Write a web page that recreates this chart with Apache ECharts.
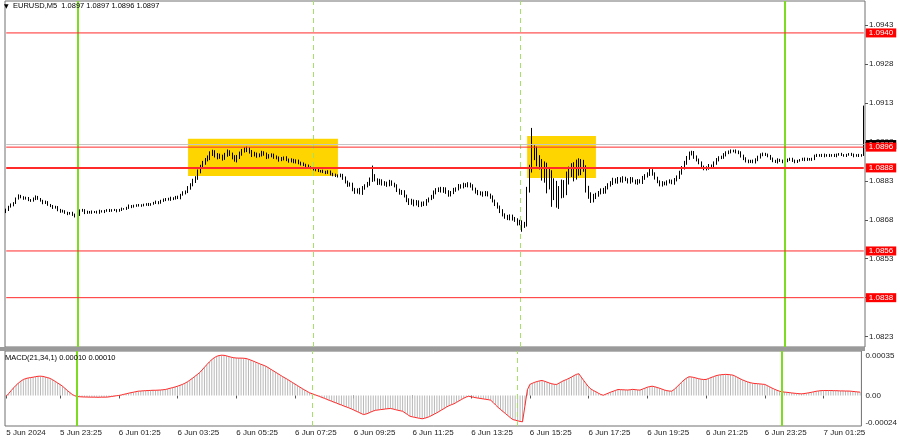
<!DOCTYPE html>
<html><head><meta charset="utf-8">
<script src="https://cdn.jsdelivr.net/npm/echarts/dist/echarts.min.js"></script>
<style>html,body{margin:0;padding:0;background:#fff}#c{width:900px;height:441px}</style>
</head><body><div id="c"></div>
<script>
// ---- data (EURUSD M5, first bar 5 Jun 2024 21:35) ----
const firstOpen = 1.08712;
const closes = [
1.08718,1.08730,1.08737,1.08745,1.08761,1.08772,1.08768,1.08761,1.08764,1.08757,
1.08753,1.08761,1.08768,1.08761,1.08753,1.08745,1.08749,1.08737,1.08734,1.08726,
1.08730,1.08718,1.08711,1.08714,1.08707,1.08703,1.08707,1.08699,1.08695,1.08699,
1.08714,1.08718,1.08707,1.08711,1.08707,1.08711,1.08711,1.08707,1.08714,1.08711,
1.08714,1.08718,1.08714,1.08718,1.08718,1.08714,1.08718,1.08722,1.08722,1.08726,
1.08734,1.08730,1.08734,1.08737,1.08734,1.08737,1.08737,1.08741,1.08737,1.08741,
1.08745,1.08749,1.08745,1.08753,1.08757,1.08761,1.08757,1.08764,1.08761,1.08768,
1.08764,1.08776,1.08784,1.08788,1.08803,1.08815,1.08830,1.08841,1.08865,1.08884,
1.08899,1.08911,1.08919,1.08934,1.08942,1.08930,1.08922,1.08926,1.08919,1.08930,
1.08942,1.08934,1.08922,1.08911,1.08922,1.08934,1.08945,1.08949,1.08953,1.08942,
1.08930,1.08934,1.08926,1.08930,1.08938,1.08934,1.08922,1.08926,1.08930,1.08922,
1.08919,1.08911,1.08915,1.08919,1.08911,1.08907,1.08911,1.08903,1.08907,1.08899,
1.08895,1.08892,1.08888,1.08880,1.08880,1.08876,1.08872,1.08868,1.08868,1.08865,
1.08861,1.08865,1.08857,1.08853,1.08849,1.08849,1.08853,1.08841,1.08826,1.08815,
1.08818,1.08799,1.08788,1.08795,1.08784,1.08803,1.08811,1.08818,1.08834,1.08849,
1.08834,1.08822,1.08830,1.08818,1.08822,1.08815,1.08826,1.08818,1.08811,1.08795,
1.08784,1.08788,1.08772,1.08757,1.08745,1.08753,1.08741,1.08749,1.08737,1.08745,
1.08741,1.08753,1.08761,1.08768,1.08784,1.08795,1.08799,1.08791,1.08799,1.08788,
1.08776,1.08784,1.08795,1.08799,1.08811,1.08807,1.08815,1.08811,1.08818,1.08811,
1.08799,1.08788,1.08780,1.08784,1.08776,1.08784,1.08776,1.08768,1.08753,1.08741,
1.08730,1.08714,1.08699,1.08691,1.08687,1.08695,1.08684,1.08680,1.08668,1.08672,
1.08657,1.08664,1.08795,1.08872,1.08930,1.08942,1.08911,1.08892,1.08853,1.08880,
1.08822,1.08853,1.08776,1.08815,1.08757,1.08788,1.08815,1.08795,1.08841,1.08865,
1.08880,1.08853,1.08892,1.08872,1.08899,1.08880,1.08803,1.08776,1.08757,1.08768,
1.08776,1.08784,1.08795,1.08788,1.08803,1.08815,1.08822,1.08834,1.08826,1.08838,
1.08830,1.08841,1.08834,1.08826,1.08838,1.08830,1.08822,1.08830,1.08826,1.08841,
1.08849,1.08857,1.08868,1.08857,1.08841,1.08826,1.08815,1.08822,1.08818,1.08826,
1.08830,1.08822,1.08834,1.08845,1.08861,1.08880,1.08899,1.08919,1.08934,1.08938,
1.08922,1.08911,1.08899,1.08884,1.08876,1.08880,1.08888,1.08884,1.08899,1.08911,
1.08919,1.08922,1.08930,1.08938,1.08942,1.08945,1.08945,1.08942,1.08938,1.08926,
1.08915,1.08907,1.08903,1.08907,1.08903,1.08911,1.08922,1.08930,1.08934,1.08930,
1.08926,1.08915,1.08907,1.08903,1.08911,1.08907,1.08903,1.08907,1.08911,1.08915,
1.08907,1.08903,1.08907,1.08911,1.08915,1.08911,1.08915,1.08911,1.08915,1.08926,
1.08930,1.08926,1.08930,1.08926,1.08930,1.08926,1.08930,1.08926,1.08930,1.08934,
1.08930,1.08926,1.08930,1.08934,1.08930,1.08926,1.08930,1.08926,1.08930,1.08970
];
// wick lengths in points (0.00001)
const upperWick = [
5,4,6,3,5,6,4,3,5,4, 3,5,6,4,3,4,5,3,4,3, 4,3,4,5,3,4,3,4,5,3, 6,4,3,4,3,5,3,4,5,3,
4,3,4,3,4,3,4,5,3,4, 5,3,4,3,4,3,5,3,4,3, 4,5,3,4,5,3,4,5,3,4, 5,4,6,5,7,6,8,7,9,8,
8,7,9,10,8,6,7,9,5,8, 9,6,5,7,8,9,8,10,9,6, 7,8,5,6,8,6,5,7,6,5, 6,5,7,5,6,5,6,4,6,5,
5,6,4,5,6,4,5,6,4,5, 4,6,5,4,5,6,5,4,6,5, 6,5,4,6,8,7,6,8,9,40, 7,6,8,6,7,5,8,6,5,6,
5,7,6,5,6,8,5,7,6,5, 6,7,5,8,9,7,6,8,7,6, 6,7,8,6,7,6,8,6,7,5, 6,5,7,6,5,7,6,5,6,5,
6,5,7,6,8,6,5,7,6,8, 6,8,12,20,104,25,20,18,22,25, 20,30,18,25,15,22,20,18,25,20, 18,22,20,25,15,12,10,8,10,12,
8,7,6,8,7,6,7,8,6,7, 6,7,5,6,7,6,5,7,6,8, 7,6,8,7,6,5,6,7,5,6, 6,5,7,6,8,7,8,7,9,8,
7,6,5,6,5,6,7,5,6,7, 6,5,7,6,5,6,5,6,5,6, 5,6,5,4,5,6,5,6,5,4, 5,4,5,4,6,4,5,4,5,4,
4,5,4,3,4,5,4,3,4,5, 4,3,4,5,3,4,3,4,5,3, 4,3,4,3,4,5,3,4,3,150
];
const lowerWick = [
6,4,3,5,4,3,5,4,3,5, 4,3,5,4,3,5,4,3,5,4, 3,5,4,3,4,5,3,4,6,5, 4,3,5,4,3,4,5,3,4,3,
5,3,4,3,4,5,3,4,3,4, 4,5,3,4,3,4,5,3,4,3, 3,4,5,3,4,5,3,4,5,3, 4,5,3,6,5,7,6,8,7,6,
8,7,6,9,8,10,9,7,11,8, 7,8,9,7,10,8,7,6,8,7, 8,6,7,5,6,7,8,6,5,7, 6,7,5,6,5,7,6,5,6,5,
6,5,6,4,5,6,5,4,6,5, 5,4,6,5,4,6,5,7,6,8, 7,9,8,7,6,8,7,6,7,8, 6,8,7,6,7,8,6,7,6,8,
7,8,6,9,8,7,9,6,8,7, 8,7,6,5,7,6,8,6,7,8, 7,6,5,7,6,7,6,5,6,7, 6,7,5,6,7,5,6,7,6,8,
7,8,6,7,8,9,7,8,10,9, 23,8,10,10,10,20,25,18,22,30, 40,25,46,20,30,35,25,30,20,25, 20,25,18,22,20,15,18,15,12,10,
8,7,6,8,7,6,7,8,6,7, 6,7,5,6,7,6,5,7,6,8, 7,6,8,7,6,5,6,7,5,6, 6,5,7,6,8,7,6,7,8,6,
7,6,5,6,5,6,7,5,6,7, 6,5,7,6,5,6,5,6,5,6, 5,6,5,4,5,6,5,6,5,4, 5,4,5,4,6,4,5,4,5,4,
4,5,4,3,4,5,4,3,4,5, 4,3,4,5,3,4,3,4,5,3, 4,3,4,3,4,5,3,4,3,4
];
// MACD(21,34,1) in units of 0.00001
const macd = [
-0.5,1.5,3.8,6.0,8.0,9.8,11.3,12.6,13.3,13.8, 14.1,14.4,14.8,15.1,15.2,15.0,14.5,14.0,13.4,12.3,
11.1,9.9,8.6,7.3,5.6,3.9,2.3,0.8,-0.2,-0.8, -1.0,-1.1,-1.2,-1.2,-1.3,-1.3,-1.3,-1.4,-1.4,-1.3,
-1.3,-1.3,-1.1,-0.8,-0.5,-0.2,0.0,0.4,0.9,1.3, 1.8,2.2,2.6,3.0,3.4,3.5,3.7,3.8,3.9,4.0,
4.1,4.1,4.2,4.3,4.5,4.7,5.2,5.7,6.2,6.7, 7.3,8.0,8.7,9.6,10.7,12.0,13.4,14.9,16.4,17.9,
20.0,22.2,24.3,26.4,28.2,29.7,30.8,31.4,31.7,31.6, 31.2,30.6,30.1,29.7,29.5,29.4,29.4,29.3,29.1,28.5,
27.8,27.0,26.2,25.4,24.6,23.9,23.1,22.0,20.8,19.6, 18.4,17.2,16.0,14.8,13.7,12.6,11.4,10.2,9.0,7.8,
6.6,5.4,4.3,3.2,2.1,1.4,0.7,0.0,-0.7,-1.5, -2.2,-3.0,-3.8,-4.5,-5.3,-6.0,-6.8,-7.5,-8.3,-9.0,
-9.7,-10.5,-11.4,-12.3,-13.2,-14.1,-15.0,-14.6,-13.9,-13.0, -12.2,-11.6,-11.4,-11.1,-10.9,-10.6,-10.4,-10.2,-10.6,-11.1,
-11.6,-12.0,-12.4,-13.7,-15.0,-16.3,-16.8,-17.2,-17.6,-18.0, -18.3,-17.9,-17.3,-16.6,-15.6,-14.6,-13.6,-12.5,-11.3,-10.2,
-9.0,-8.0,-7.2,-6.5,-5.4,-4.3,-3.2,-2.1,-1.2,-0.6, -1.0,-1.4,-1.8,-2.1,-2.4,-2.7,-3.0,-3.3,-3.7,-5.5,
-7.5,-9.3,-11.0,-12.6,-14.2,-15.8,-17.4,-18.9,-19.4,-19.9, -20.4,-20.7,-8.0,4.5,8.7,9.6,10.4,11.0,11.5,11.8,
11.2,10.5,9.8,9.2,8.8,8.7,9.8,10.9,11.8,12.6, 13.5,14.5,15.6,16.6,17.1,14.5,11.8,9.2,6.8,5.0,
3.9,2.9,1.8,0.8,0.2,1.0,1.8,2.6,3.3,4.0, 4.7,4.6,4.5,4.4,4.3,4.5,4.8,4.6,4.4,4.2,
5.0,5.7,6.5,7.0,7.3,6.9,6.3,5.7,5.0,4.3, 3.8,3.5,3.4,4.8,6.6,8.5,10.4,12.2,13.6,14.7,
14.6,14.2,13.7,13.2,12.8,12.6,12.6,13.3,14.1,14.8, 15.5,16.0,16.3,16.5,16.6,16.5,16.3,16.0,15.1,14.1,
13.1,12.2,11.4,10.7,10.1,9.7,9.4,9.3,9.1,8.9, 8.7,7.8,6.8,5.8,4.9,4.1,3.4,2.9,2.7,2.5,
2.3,2.0,1.8,1.6,1.4,1.3,1.5,1.8,2.1,2.5, 2.9,3.3,3.6,3.8,3.9,3.9,3.9,3.9,3.8,3.8,
3.7,3.6,3.6,3.5,3.5,3.4,3.2,3.0,2.8,2.6
];
const priceTicks = [1.0943, 1.0928, 1.0913, 1.0898, 1.0883, 1.0868, 1.0853, 1.0838, 1.0823];
const macdTicks = [0.00035, 0, -0.00024];
const timeTicks = ['5 Jun 21:35','5 Jun 23:25','6 Jun 01:25','6 Jun 03:25','6 Jun 05:25','6 Jun 07:25','6 Jun 09:25',
  '6 Jun 11:25','6 Jun 13:25','6 Jun 15:25','6 Jun 17:25','6 Jun 19:25','6 Jun 21:25','6 Jun 23:25','7 Jun 01:25'];
const firstTickText = '5 Jun 2024';
const levels = [1.0940, 1.0896, 1.0888, 1.0856, 1.0838];
const boldLevel = 1.0888;
const currentPrice = 1.0897;
const dayLines = ['6 Jun 00:00', '7 Jun 00:00'];
const sessionLines = ['6 Jun 08:00', '6 Jun 15:00'];
const zoneStart = ['6 Jun 03:45', '6 Jun 15:15'];
const zoneEnd   = ['6 Jun 08:50', '6 Jun 17:35'];
const zoneTop   = [1.08992, 1.09003];
const zoneBottom= [1.08849, 1.08841];

// ---- build ----
if (upperWick.length !== closes.length || lowerWick.length !== closes.length || macd.length !== closes.length)
  throw new Error('len ' + closes.length + ' ' + upperWick.length + ' ' + lowerWick.length + ' ' + macd.length);
const pad = n => (n < 10 ? '0' : '') + n;
const t0 = Date.UTC(2024, 5, 5, 21, 35);
const cats = closes.map((c, i) => { const d = new Date(t0 + i * 300000); return d.getUTCDate() + ' Jun ' + pad(d.getUTCHours()) + ':' + pad(d.getUTCMinutes()); });
const ohlc = closes.map((c, i) => {
  const o = i ? closes[i - 1] : firstOpen;
  return [o, c, +(Math.min(o, c) - lowerWick[i] * 1e-5).toFixed(5), +(Math.max(o, c) + upperWick[i] * 1e-5).toFixed(5)];
});
const macdVals = macd.map(v => +(v * 1e-5).toFixed(7));
const tickSet = new Set(timeTicks);
const FONT = 'Liberation Sans';
const empty = cats.map(() => null);
const firstCat = cats[0], lastCat = cats[cats.length - 1];

const vLines = () => [
  ...dayLines.map(x => ({ xAxis: x, lineStyle: { color: '#7ddc1f', width: 2, type: 'solid' }, label: { show: false } })),
  ...sessionLines.map(x => ({ xAxis: x, lineStyle: { color: '#a6e06a', width: 1, type: [5, 4] }, label: { show: false } }))
];
// a horizontal price level drawn as a two-point line series with an end label
const levelSeries = (v, color, width, bg, z) => ({
  type: 'line', xAxisIndex: 0, yAxisIndex: 0, z: z, silent: true, symbol: 'none', showSymbol: false,
  data: [[firstCat, v], [lastCat, v]],
  lineStyle: { color: color, width: width, type: 'solid' },
  itemStyle: { color: color },
  endLabel: { show: true, distance: 2, color: '#fff', backgroundColor: bg, fontSize: 8, fontFamily: FONT,
    padding: [1, 3, 0, 3], formatter: () => v.toFixed(4) }
});

const option = {
  animation: false,
  backgroundColor: '#fff',
  grid: [
    { left: 5, right: 35, top: 1, height: 346, show: true, borderColor: '#707070', borderWidth: 1 },
    { left: 5, right: 35, top: 351, height: 75, show: true, borderColor: '#707070', borderWidth: 1 }
  ],
  xAxis: [
    { type: 'category', data: cats, gridIndex: 0, boundaryGap: true, axisLine: { show: false }, axisTick: { show: false }, axisLabel: { show: false }, splitLine: { show: false } },
    { type: 'category', data: cats, gridIndex: 1, boundaryGap: true, axisLine: { show: false },
      axisTick: { show: true, alignWithLabel: true, interval: (i, v) => tickSet.has(v), length: 3, lineStyle: { color: '#555' } },
      axisLabel: { interval: (i, v) => tickSet.has(v), formatter: v => v === timeTicks[0] ? firstTickText : v,
        align: 'left', fontSize: 8, fontFamily: FONT, color: '#222', margin: 3 },
      splitLine: { show: false } }
  ],
  yAxis: [
    { type: 'value', gridIndex: 0, position: 'right', min: 1.08190, max: 1.09523,
      axisLine: { show: false }, splitLine: { show: false },
      axisTick: { show: true, customValues: priceTicks, length: 3, lineStyle: { color: '#555' } },
      axisLabel: { customValues: priceTicks, formatter: v => v.toFixed(4), fontSize: 8, fontFamily: FONT, color: '#222', margin: 4 } },
    { type: 'value', gridIndex: 1, position: 'right', min: -0.00024, max: 0.00035,
      axisLine: { show: false }, splitLine: { show: false },
      axisTick: { show: false },
      axisLabel: { customValues: macdTicks, fontSize: 8, fontFamily: FONT, color: '#222', margin: 4,
        formatter: v => v === 0 ? '0.00' : (v > 0 ? '{t|' + v.toFixed(5) + '}' : '{b|' + v.toFixed(5) + '}'),
        rich: { t: { fontSize: 8, fontFamily: FONT, color: '#222', padding: [10, 0, 0, 0] },
                b: { fontSize: 8, fontFamily: FONT, color: '#222', padding: [0, 0, 6, 0] } } } }
  ],
  series: [
    { type: 'line', xAxisIndex: 0, yAxisIndex: 0, data: empty, z: 1, silent: true,
      markArea: { silent: true, itemStyle: { color: '#ffd500', opacity: 1 },
        data: zoneStart.map((s, k) => [{ xAxis: s, yAxis: zoneTop[k] }, { xAxis: zoneEnd[k], yAxis: zoneBottom[k] }]) } },
    { type: 'candlestick', xAxisIndex: 0, yAxisIndex: 0, data: ohlc, z: 3, barWidth: 1.3,
      itemStyle: { color: '#ffffff', color0: '#000000', borderColor: '#000000', borderColor0: '#000000', borderWidth: 1 },
      markLine: { symbol: 'none', silent: true, animation: false, data: vLines() } },
    levelSeries(currentPrice, '#c4c4c4', 1, '#000000', 4),
    ...levels.map((v, k) => levelSeries(v, '#ff2a2a', v === boldLevel ? 2 : 1, '#ff0000', 5 + k)),
    { type: 'bar', xAxisIndex: 1, yAxisIndex: 1, data: macdVals, barWidth: 1, itemStyle: { color: '#b8b8b8' }, z: 2,
      markLine: { symbol: 'none', silent: true, animation: false, data: vLines() } },
    { type: 'line', xAxisIndex: 1, yAxisIndex: 1, data: macdVals, showSymbol: false, symbol: 'none', z: 3,
      lineStyle: { color: '#ff2a2a', width: 1 } }
  ],
  graphic: [
    { type: 'rect', left: 0, top: 347, shape: { width: 865, height: 4 }, style: { fill: '#9a9a9a' }, z: 50 },
    { type: 'text', left: 4, top: 3, style: { text: '▼', fontSize: 6, fill: '#000', fontFamily: 'DejaVu Sans' }, z: 50 },
    { type: 'text', left: 13, top: 2, style: { text: 'EURUSD,M5  1.0897 1.0897 1.0896 1.0897', fontSize: 7.5, fill: '#000', fontFamily: FONT }, z: 50 },
    { type: 'text', left: 5, top: 354, style: { text: 'MACD(21,34,1) 0.00010 0.00010', fontSize: 7.5, fill: '#000', fontFamily: FONT }, z: 50 }
  ]
};
const chart = echarts.init(document.getElementById('c'));
chart.setOption(option);
</script></body></html>
